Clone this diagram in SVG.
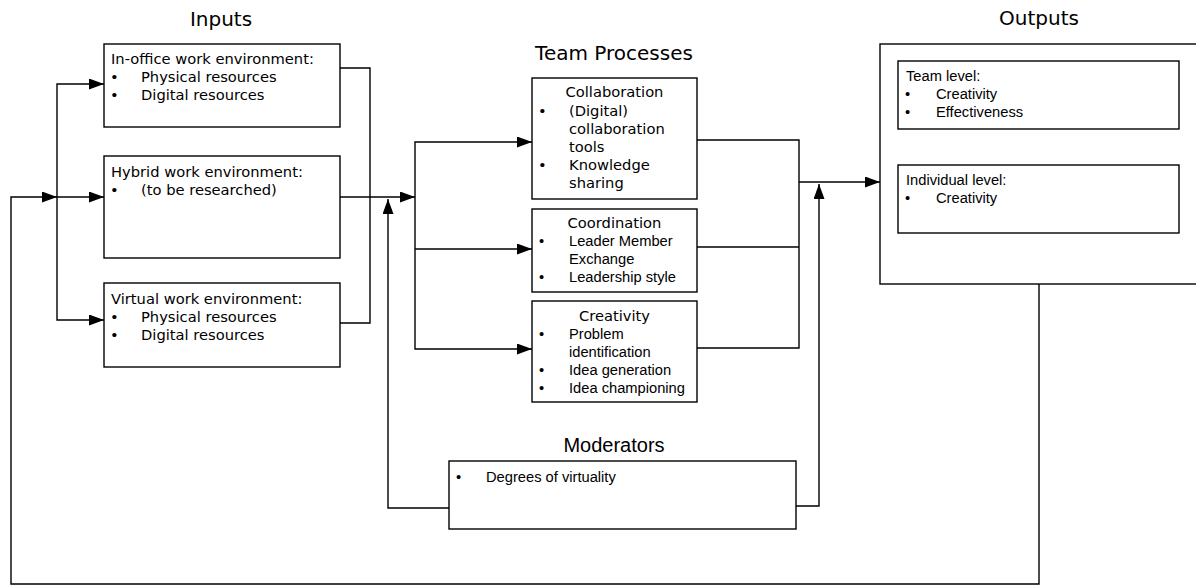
<svg xmlns="http://www.w3.org/2000/svg" width="1196" height="586" viewBox="0 0 1196 586">
<style>
.box{fill:#fff;stroke:#000;stroke-width:1.4}
.c{fill:none;stroke:#000;stroke-width:1.4}
.v{font-family:"DejaVu Sans",Verdana,sans-serif;font-size:14.7px;fill:#000}
.a{font-family:"Liberation Sans",Arial,sans-serif;font-size:14.7px;fill:#000}
.tv{font-family:"DejaVu Sans",Verdana,sans-serif;font-size:20px;fill:#000;text-anchor:middle}
.ta{font-family:"Liberation Sans",Arial,sans-serif;font-size:20px;fill:#000;text-anchor:middle}
.m{text-anchor:middle}
</style>
<defs>
<marker id="ah" markerWidth="15" markerHeight="11" refX="15" refY="5.5" orient="auto" markerUnits="userSpaceOnUse"><path d="M0,0 L15,5.5 L0,11 z" fill="#000"/></marker>
</defs>
<rect width="1196" height="586" fill="#fff"/>
<text class="tv" x="221" y="26">Inputs</text>
<text class="tv" x="614" y="60">Team Processes</text>
<text class="tv" x="1039" y="25">Outputs</text>
<text class="ta" x="614" y="452">Moderators</text>

<g id="connectors">
<path class="c" d="M1039,284 V584 H11 V197 H57" marker-end="url(#ah)"/>
<path class="c" d="M57,197 H104" marker-end="url(#ah)"/>
<path class="c" d="M57,197 V84 H104" marker-end="url(#ah)"/>
<path class="c" d="M57,197 V320 H104" marker-end="url(#ah)"/>
<path class="c" d="M340,68 H370 V323 H340"/>
<path class="c" d="M340,197 H415" marker-end="url(#ah)"/>
<path class="c" d="M415,197 V142 H532" marker-end="url(#ah)"/>
<path class="c" d="M415,197 V349 H532" marker-end="url(#ah)"/>
<path class="c" d="M415,249 H532" marker-end="url(#ah)"/>
<path class="c" d="M449,508 H388 V199" marker-end="url(#ah)"/>
<path class="c" d="M697,140 H799 V348 H697"/>
<path class="c" d="M697,247 H799"/>
<path class="c" d="M799,182 H880" marker-end="url(#ah)"/>
<path class="c" d="M796,506 H819 V184" marker-end="url(#ah)"/>
</g>

<g id="in-office">
<rect class="box" x="104" y="44" width="236" height="83"/>
<text class="v" x="111" y="64">In-office work environment:</text>
<text class="v" x="110" y="82">•</text><text class="v" x="141" y="82">Physical resources</text>
<text class="v" x="110" y="100">•</text><text class="v" x="141" y="100">Digital resources</text>
</g>
<g id="hybrid">
<rect class="box" x="104" y="156" width="236" height="102"/>
<text class="v" x="111" y="177">Hybrid work environment:</text>
<text class="v" x="110" y="195">•</text><text class="v" x="141" y="195">(to be researched)</text>
</g>
<g id="virtual">
<rect class="box" x="104" y="283" width="236" height="84"/>
<text class="v" x="111" y="304">Virtual work environment:</text>
<text class="v" x="110" y="322">•</text><text class="v" x="141" y="322">Physical resources</text>
<text class="v" x="110" y="340">•</text><text class="v" x="141" y="340">Digital resources</text>
</g>

<g id="collaboration">
<rect class="box" x="532" y="78" width="165" height="121"/>
<text class="v m" x="614.5" y="97">Collaboration</text>
<text class="v" x="538" y="116">•</text><text class="v" x="569" y="116">(Digital)</text>
<text class="v" x="569" y="134">collaboration</text>
<text class="v" x="569" y="152">tools</text>
<text class="v" x="538" y="170">•</text><text class="v" x="569" y="170">Knowledge</text>
<text class="v" x="569" y="188">sharing</text>
</g>
<g id="coordination">
<rect class="box" x="532" y="209" width="165" height="83"/>
<text class="v m" x="614.5" y="228">Coordination</text>
<text class="a" x="539" y="246">•</text><text class="a" x="569" y="246">Leader Member</text>
<text class="a" x="569" y="264">Exchange</text>
<text class="a" x="539" y="282">•</text><text class="a" x="569" y="282">Leadership style</text>
</g>
<g id="creativity">
<rect class="box" x="532" y="301" width="165" height="101"/>
<text class="v m" x="614.5" y="321">Creativity</text>
<text class="a" x="539" y="339">•</text><text class="a" x="569" y="339">Problem</text>
<text class="a" x="569" y="357">identification</text>
<text class="a" x="539" y="375">•</text><text class="a" x="569" y="375">Idea generation</text>
<text class="a" x="539" y="393">•</text><text class="a" x="569" y="393">Idea championing</text>
</g>

<g id="outputs">
<rect class="box" x="880" y="44" width="330" height="240"/>
</g>
<g id="team-level">
<rect class="box" x="898" y="61" width="281" height="68"/>
<text class="a" x="906" y="81">Team level:</text>
<text class="a" x="905" y="99">•</text><text class="a" x="936" y="99">Creativity</text>
<text class="a" x="905" y="117">•</text><text class="a" x="936" y="117">Effectiveness</text>
</g>
<g id="individual-level">
<rect class="box" x="898" y="165" width="281" height="68"/>
<text class="a" x="906" y="185">Individual level:</text>
<text class="a" x="905" y="203">•</text><text class="a" x="936" y="203">Creativity</text>
</g>

<g id="moderators">
<rect class="box" x="449" y="461" width="347" height="68"/>
<text class="a" x="456" y="482">•</text><text class="a" x="486" y="482">Degrees of virtuality</text>
</g>
</svg>
